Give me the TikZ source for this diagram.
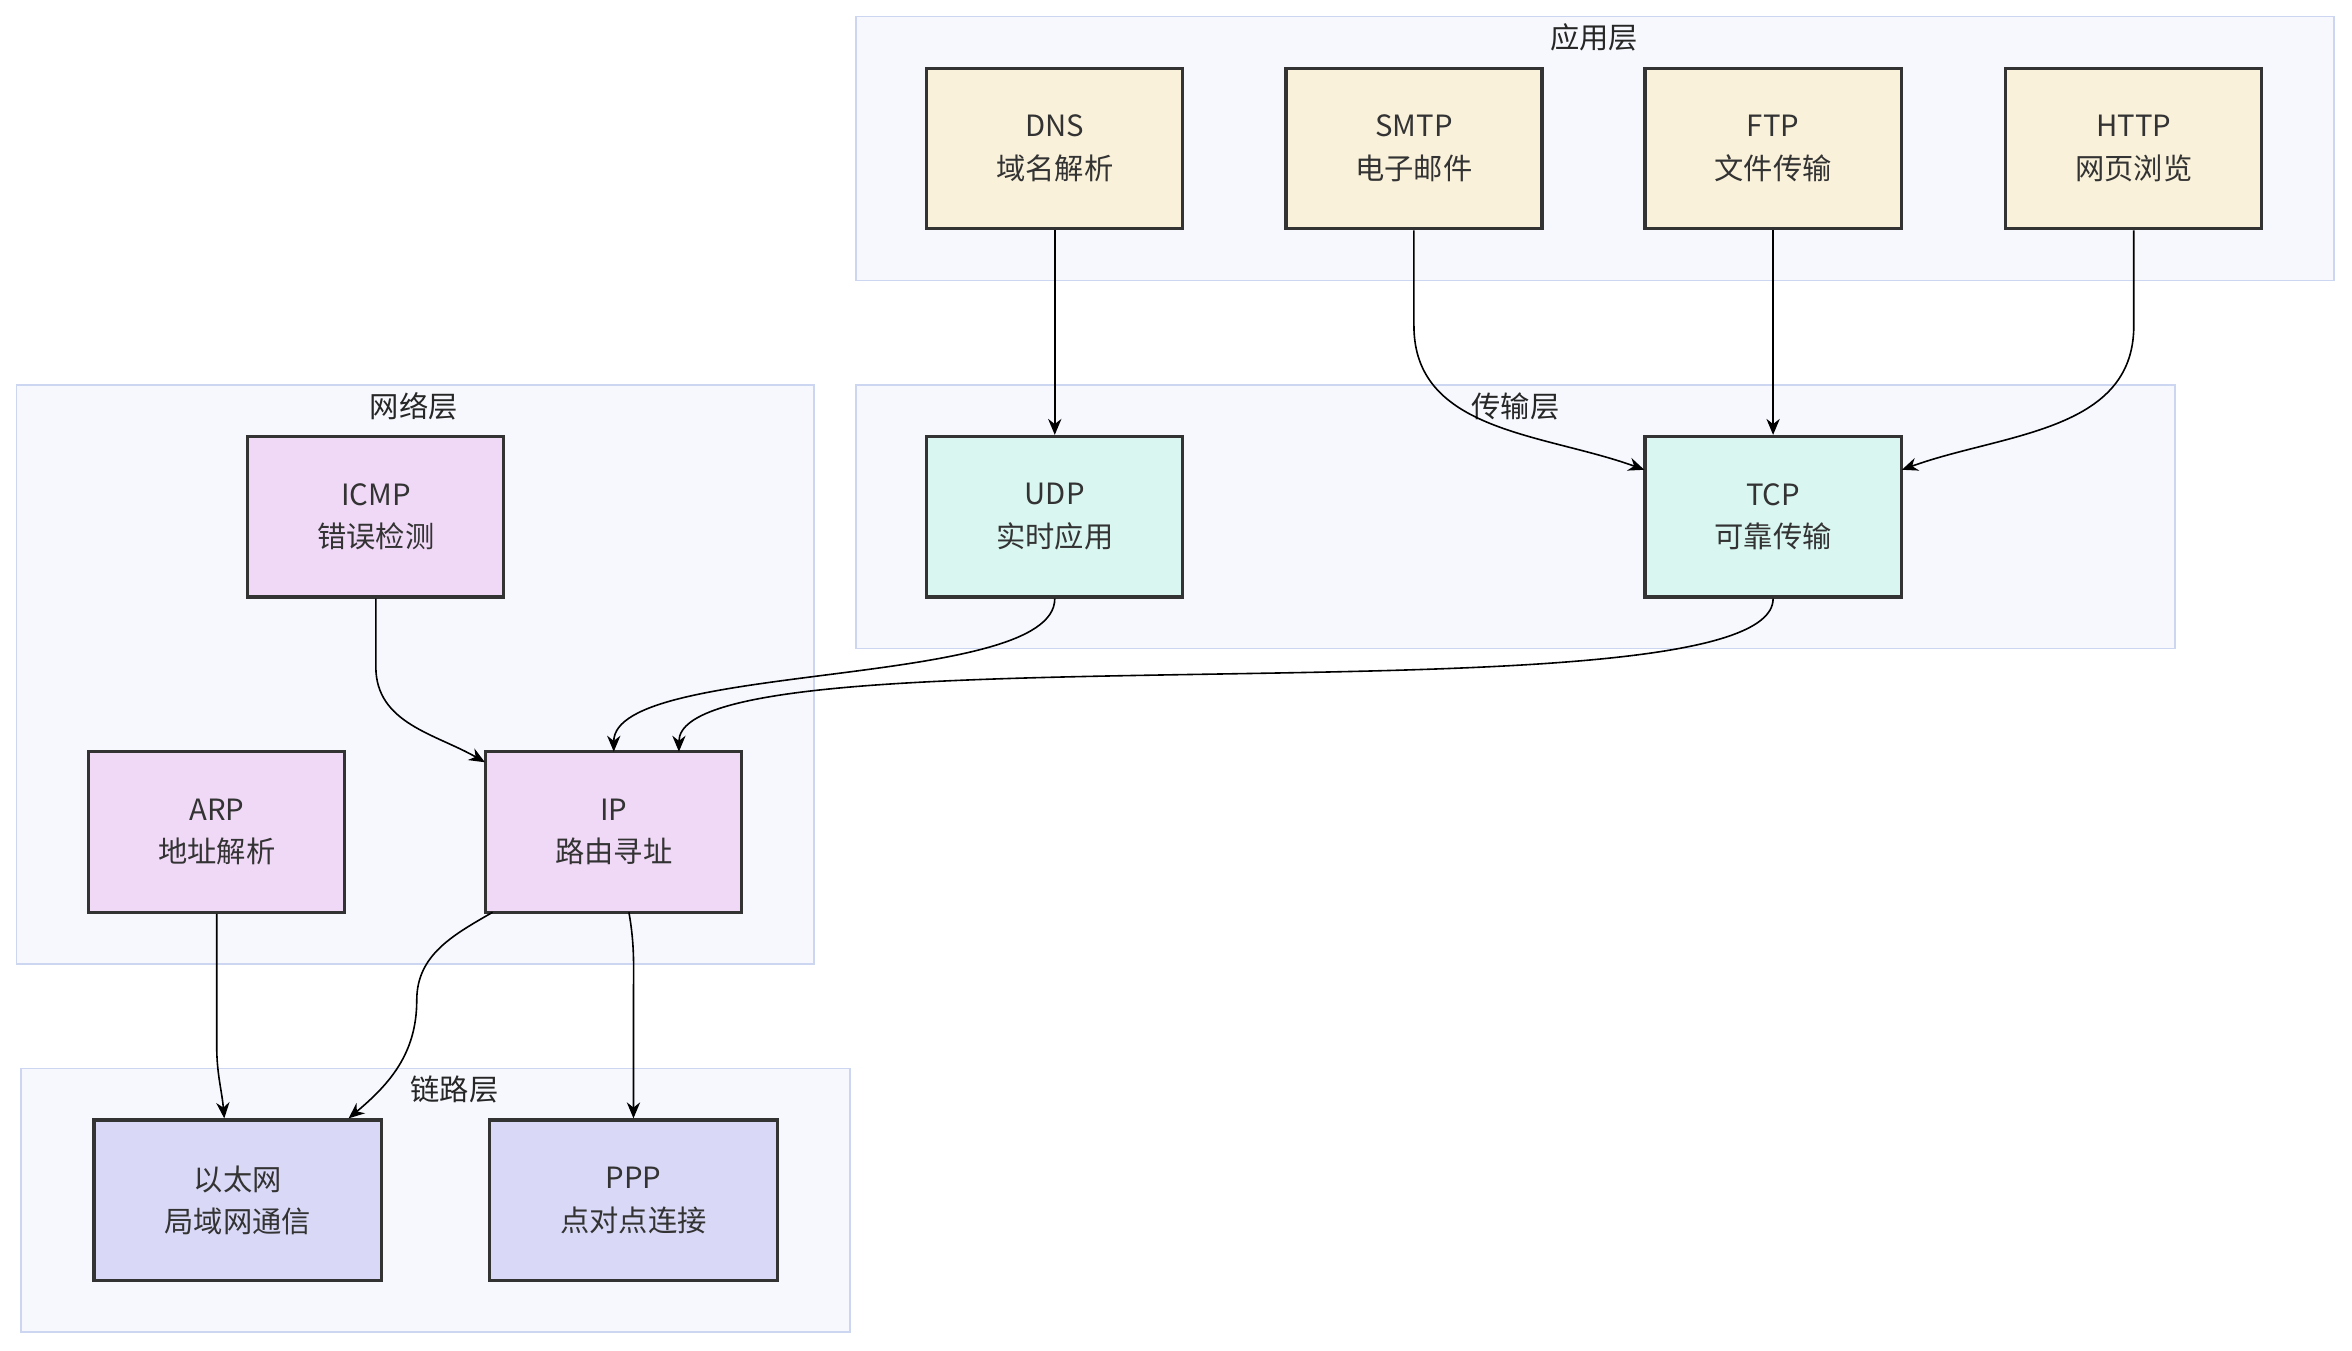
\documentclass[tikz,border=0pt]{standalone}
\usepackage{fontspec}
\setmainfont{Noto Sans CJK SC}
\usetikzlibrary{arrows.meta}
\definecolor{clfill}{HTML}{F7F8FD}
\definecolor{cldraw}{HTML}{CCD6F0}
\definecolor{appc}{HTML}{F9F1DA}
\definecolor{trac}{HTML}{D9F6F0}
\definecolor{netc}{HTML}{F0D9F7}
\definecolor{linkc}{HTML}{D9D9F7}
\begin{document}
\begin{tikzpicture}[x=0.02cm, y=-0.02cm, align=center,
  font=\fontsize{11}{16}\selectfont,
  layer/.style={draw=cldraw, fill=clfill, line width=0.6pt},
  ltitle/.style={text=black!85},
  box/.style={draw=black!80, line width=1.2pt, minimum width=3.38cm, minimum height=2.12cm, text=black!80},
  wbox/.style={box, minimum width=3.8cm},
  e/.style={-{Stealth[length=6pt,width=5pt]}, draw=black, line width=0.6pt}]
\useasboundingbox (0,0) rectangle (1552,891);

% layers
\draw[layer] (565,11) rectangle (1540,185);
\draw[layer] (565,254) rectangle (1435,428);
\draw[layer] (11,254) rectangle (537,636);
\draw[layer] (14,705) rectangle (561,879);

\node[ltitle] (tapp) at (1052,25) {应用层};
\node[ltitle] (ttra) at (1000,268) {传输层};
\node[ltitle] (tnet) at (273,268) {网络层};
\node[ltitle] (tlink) at (300,719) {链路层};

% application
\node[box, fill=appc] (DNS) at (696,98) {DNS\\域名解析};
\node[box, fill=appc] (SMTP) at (933,98) {SMTP\\电子邮件};
\node[box, fill=appc] (FTP) at (1170,98) {FTP\\文件传输};
\node[box, fill=appc] (HTTP) at (1408,98) {HTTP\\网页浏览};

% transport
\node[box, fill=trac] (UDP) at (696,341) {UDP\\实时应用};
\node[box, fill=trac] (TCP) at (1170,341) {TCP\\可靠传输};

% network
\node[box, fill=netc] (ICMP) at (248,341) {ICMP\\错误检测};
\node[box, fill=netc] (ARP) at (143,549) {ARP\\地址解析};
\node[box, fill=netc] (IP) at (405,549) {IP\\路由寻址};

% link
\node[wbox, fill=linkc] (ETH) at (157,792) {以太网\\局域网通信};
\node[wbox, fill=linkc] (PPP) at (418,792) {PPP\\点对点连接};

\coordinate (tcpL) at (1085,310);
\coordinate (tcpR) at (1255,310);
\coordinate (ipA) at (405,496);
\coordinate (ipB) at (448,496);
\coordinate (ipC) at (320,503);
\coordinate (ethA) at (148,738);
\coordinate (ethB) at (230,738);
\coordinate (ipD) at (325,602);
\coordinate (ipE) at (415,602);

\draw[e] (DNS) -- (UDP);
\draw[e] (FTP) -- (TCP);
\draw[e] (SMTP.south) -- (933,215) to[out=-90,in=160] (tcpL);
\draw[e] (HTTP.south) -- (1408,215) to[out=-90,in=20] (tcpR);
\draw[e] (UDP.south) to[out=-90,in=90,looseness=0.5] (ipA);
\draw[e] (TCP.south) to[out=-90,in=90,looseness=0.3] (ipB);
\draw[e] (ICMP.south) -- (248,440) to[out=-90,in=150] (ipC);
\draw[e] (ARP.south) -- (143,690) to[out=-90,in=95] (ethA);
\draw[e] (ipD) to[out=210,in=90] (275,660) to[out=-90,in=40] (ethB);
\draw[e] (ipE) to[out=-80,in=90] (418,660) -- (PPP.north);
\end{tikzpicture}
\end{document}
